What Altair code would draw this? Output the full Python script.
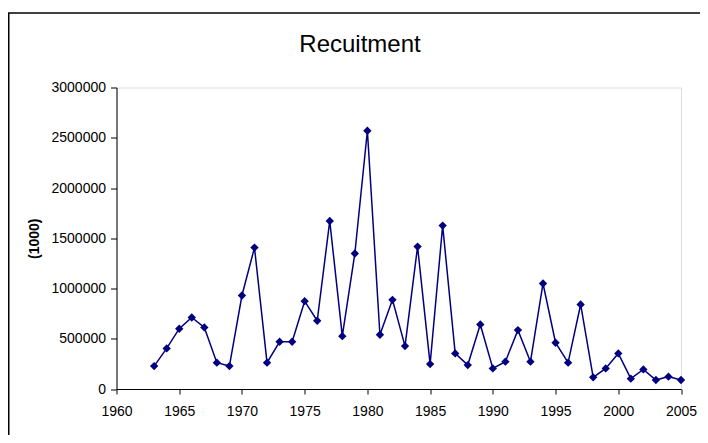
import altair as alt
import pandas as pd

years = list(range(1963, 2006))
recruitment = [
    228000, 404000, 600000, 712000, 613000, 262000, 228000, 930000, 1407000, 262000,
    470000, 470000, 874000, 679000, 1672000, 526000, 1348000, 2570000, 540000, 887000,
    427000, 1417000, 248000, 1626000, 354000, 238000, 642000, 205000, 272000, 586000,
    272000, 1050000, 460000, 262000, 841000, 116000, 205000, 354000, 103000, 195000,
    89000, 123000, 89000,
]
x_ticks = [1960, 1965, 1970, 1975, 1980, 1985, 1990, 1995, 2000, 2005]
y_ticks = [0, 500000, 1000000, 1500000, 2000000, 2500000, 3000000]
title_text = "Recuitment"
y_title = "(1000)"

df = pd.DataFrame({"year": years, "value": recruitment})
NAVY = "#000080"
FONT = "Liberation Sans"

W, H = 564.5, 301.5
PL, PT, PR, PB = 108.5, 79.5, 19, 46

x_enc = alt.X("year:Q", scale=alt.Scale(domain=[1960, 2005], nice=False, zero=False),
              axis=alt.Axis(values=x_ticks, format="d", title=None, grid=False,
                            tickSize=5, labelPadding=10, labelFontSize=14, labelFont=FONT,
                            labelColor="black", domainColor="black", tickColor="black",
                            labelFlush=False))
y_enc = alt.Y("value:Q", scale=alt.Scale(domain=[0, 3000000], nice=False),
              axis=alt.Axis(values=y_ticks, format="d", title=y_title, grid=False,
                            tickSize=6, labelPadding=5, labelFontSize=14, labelFont=FONT,
                            labelColor="black", domainColor="black", tickColor="black",
                            titleFont=FONT, titleFontSize=14, titleFontWeight="bold",
                            titleColor="black", titlePadding=9))

base = alt.Chart(df)
line = base.mark_line(color=NAVY, strokeWidth=1.5).encode(x=x_enc, y=y_enc)
pts = base.mark_point(shape="diamond", filled=True, color=NAVY, size=70, opacity=1).encode(
    x="year:Q", y="value:Q")

frame = pd.DataFrame({"a": [0]})
top_border = alt.Chart(frame).mark_rule(color="black", strokeWidth=1.5).encode(
    x=alt.value(-PL), x2=alt.value(W + PR), y=alt.value(13 - 87.5))
left_border = alt.Chart(frame).mark_rule(color="black", strokeWidth=1.5).encode(
    x=alt.value(-PL + 0.75), y=alt.value(13 - 87.5), y2=alt.value(H + PB))

title = alt.Chart(pd.DataFrame({"t": [title_text]})).mark_text(
    font=FONT, fontSize=24, color="black", align="center", baseline="middle").encode(
    text="t:N", x=alt.value(360 - 116.5), y=alt.value(45 - 87.5))

chart = alt.layer(top_border, left_border, line, pts, title).properties(
    width=W, height=H,
    autosize=alt.AutoSizeParams(type="none"),
    padding={"left": PL, "top": PT, "right": PR, "bottom": PB},
).configure_view(stroke="#808080", strokeWidth=1).configure(background="white")

chart.save("out.html", embed_options={"renderer": "svg", "actions": False})
